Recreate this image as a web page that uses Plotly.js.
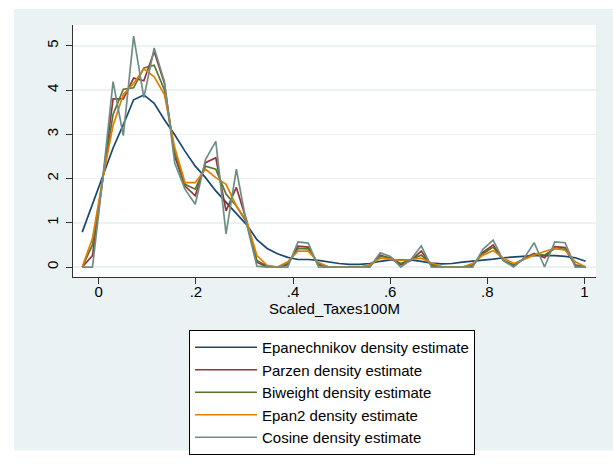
<!DOCTYPE html>
<html>
<head>
<meta charset="utf-8">
<script src="https://cdn.plot.ly/plotly-3.0.1.min.js"></script>
<style>html,body{margin:0;padding:0;background:#fff;}#chart{width:613px;height:466px;}</style>
</head>
<body>
<div id="chart"></div>
<script>
// evaluation grid (Scaled_Taxes100M)
var xGrid = [-0.0340, -0.0129, 0.0083, 0.0295, 0.0506, 0.0718, 0.0929, 0.1141, 0.1352, 0.1564,
  0.1775, 0.1987, 0.2198, 0.2410, 0.2621, 0.2833, 0.3044, 0.3256, 0.3467, 0.3679,
  0.3890, 0.4102, 0.4313, 0.4525, 0.4736, 0.4948, 0.5159, 0.5371, 0.5582, 0.5794,
  0.6005, 0.6217, 0.6428, 0.6640, 0.6851, 0.7063, 0.7274, 0.7486, 0.7697, 0.7909,
  0.8120, 0.8332, 0.8543, 0.8755, 0.8966, 0.9178, 0.9389, 0.9601, 0.9812, 1.0024];

var epanechnikov = [0.79, 1.42, 2.02, 2.69, 3.22, 3.78, 3.89, 3.70, 3.33, 2.99,
  2.62, 2.28, 2.02, 1.72, 1.46, 1.20, 0.96, 0.62, 0.42, 0.30,
  0.22, 0.17, 0.17, 0.15, 0.11, 0.08, 0.06, 0.06, 0.08, 0.13,
  0.16, 0.16, 0.16, 0.13, 0.09, 0.07, 0.08, 0.11, 0.13, 0.15,
  0.18, 0.21, 0.23, 0.25, 0.26, 0.26, 0.26, 0.24, 0.21, 0.13];

var parzen = [0, 0.26, 2.0, 3.80, 3.80, 4.27, 4.21, 4.87, 4.15, 2.5,
  1.83, 1.61, 2.36, 2.47, 1.27, 1.80, 1.05, 0.11, 0.0, 0,
  0.05, 0.47, 0.45, 0.05, 0, 0, 0, 0, 0.02, 0.27,
  0.2, 0.05, 0.15, 0.36, 0.03, 0, 0, 0, 0.02, 0.33,
  0.5, 0.15, 0.02, 0.2, 0.31, 0.21, 0.46, 0.44, 0.03, 0];

var biweight = [0, 0.5, 2.0, 3.45, 4.02, 4.05, 4.5, 4.56, 4.0, 2.6,
  1.87, 1.76, 2.28, 2.21, 1.65, 1.38, 1.01, 0.15, 0.02, 0,
  0.08, 0.42, 0.41, 0.07, 0, 0, 0, 0, 0.03, 0.24,
  0.21, 0.08, 0.17, 0.27, 0.06, 0, 0, 0, 0.05, 0.3,
  0.45, 0.15, 0.05, 0.17, 0.3, 0.27, 0.42, 0.4, 0.05, 0];

var epan2 = [0, 0.65, 2.0, 3.2, 3.9, 4.15, 4.48, 4.3, 3.9, 2.7,
  1.91, 1.91, 2.21, 2.02, 1.87, 1.38, 1.05, 0.26, 0.04, 0,
  0.12, 0.36, 0.36, 0.1, 0, 0, 0, 0, 0.05, 0.2,
  0.18, 0.15, 0.17, 0.2, 0.09, 0.01, 0, 0, 0.08, 0.27,
  0.37, 0.2, 0.08, 0.18, 0.27, 0.35, 0.42, 0.38, 0.12, 0];

var cosine = [0, 0, 2.0, 4.19, 2.97, 5.22, 3.83, 4.95, 4.19, 2.35,
  1.76, 1.42, 2.43, 2.84, 0.75, 2.21, 0.97, 0.02, 0, 0,
  0, 0.57, 0.54, 0, 0, 0, 0, 0, 0, 0.32,
  0.24, 0, 0.17, 0.48, 0, 0, 0, 0, 0, 0.4,
  0.61, 0.14, 0, 0.2, 0.55, 0, 0.57, 0.55, 0, 0];

var seriesNames = ["Epanechnikov density estimate", "Parzen density estimate",
  "Biweight density estimate", "Epan2 density estimate", "Cosine density estimate"];
var seriesData = [epanechnikov, parzen, biweight, epan2, cosine];
var seriesColors = ["#1A476F", "#90353B", "#55752F", "#E37E00", "#6E8E84"];

var xTickVals = [0, 0.2, 0.4, 0.6, 0.8, 1];
var xTickText = ["0", ".2", ".4", ".6", ".8", "1"];
var yTickVals = [0, 1, 2, 3, 4, 5];
var yTickText = ["0", "1", "2", "3", "4", "5"];

var traces = seriesData.map(function (ys, i) {
  return {
    x: xGrid, y: ys, type: "scatter", mode: "lines",
    name: seriesNames[i],
    line: {color: seriesColors[i], width: 1.7}
  };
});

var FONT = "Liberation Sans, Arial, Helvetica, sans-serif";
var layout = {
  width: 613, height: 466,
  margin: {l: 73, r: 17, t: 25, b: 188, pad: 0},
  paper_bgcolor: "#ffffff",
  plot_bgcolor: "#ffffff",
  font: {family: FONT, size: 15, color: "#000"},
  showlegend: true,
  xaxis: {
    range: [-0.053, 1.0237], tickvals: xTickVals, ticktext: xTickText,
    ticks: "outside", ticklen: 6, tickcolor: "#333", tickwidth: 1,
    showline: true, linecolor: "#333", linewidth: 1, mirror: false,
    showgrid: false, zeroline: false, ticklabelstandoff: -5,
    tickfont: {family: FONT, size: 15, color: "#000"},
    title: {text: "Scaled_Taxes100M", font: {family: FONT, size: 15, color: "#000"}, standoff: 0},
    automargin: false
  },
  yaxis: {
    range: [-0.225, 5.47], tickvals: yTickVals, ticktext: yTickText, tickangle: -90,
    ticks: "outside", ticklen: 6, tickcolor: "#333", tickwidth: 1,
    showline: true, linecolor: "#333", linewidth: 1, mirror: false,
    showgrid: true, gridcolor: "#EAF2F3", gridwidth: 1.5, zeroline: false,
    ticklabelstandoff: 2,
    tickfont: {family: FONT, size: 15, color: "#000"},
    automargin: false
  },
  legend: {
    x: 0.2218, y: -0.2055, xanchor: "left", yanchor: "top",
    bgcolor: "#ffffff", bordercolor: "#000", borderwidth: 1,
    font: {family: FONT, size: 15, color: "#000"},
    tracegroupgap: 0, itemwidth: 62
  },
  shapes: [
    {type: "rect", xref: "paper", yref: "paper", x0: -0.1128, x1: 1.0325, y0: -0.6877, y1: 1.0632,
     fillcolor: "#EAF2F3", line: {width: 0}, layer: "below"},
    {type: "rect", xref: "paper", yref: "paper", x0: 0, x1: 1, y0: 0, y1: 1,
     fillcolor: "#ffffff", line: {width: 0}, layer: "below"}
  ]
};

Plotly.newPlot("chart", traces, layout, {displayModeBar: false, staticPlot: true});
</script>
</body>
</html>
